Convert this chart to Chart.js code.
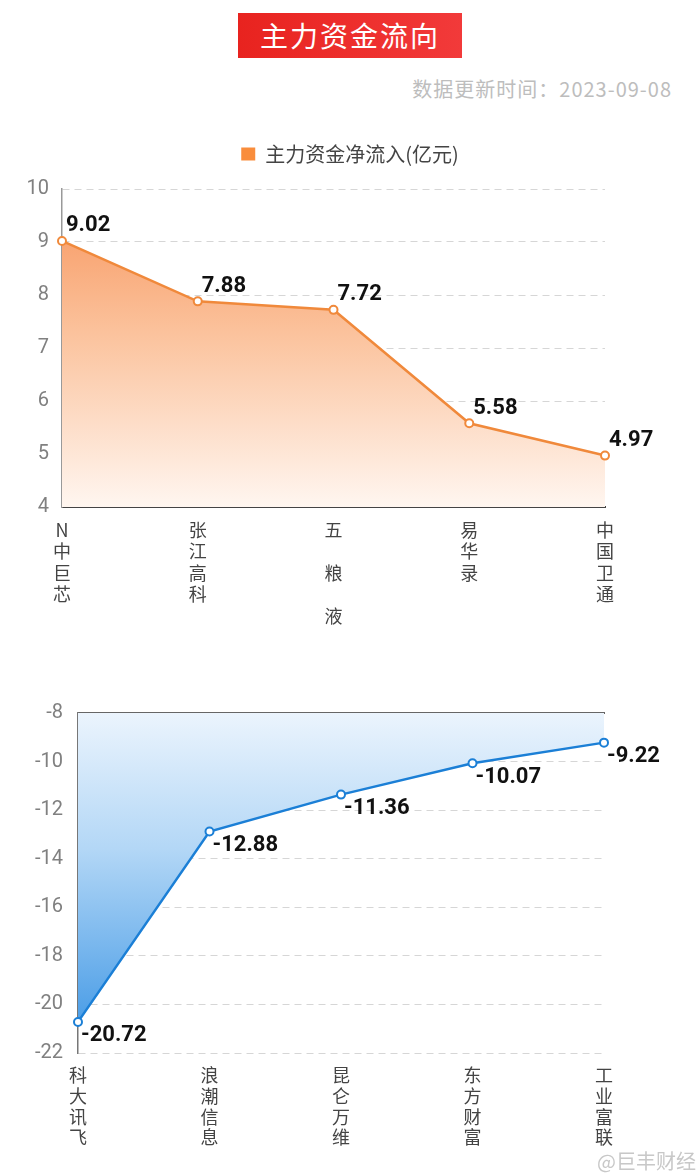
<!DOCTYPE html>
<html>
<head>
<meta charset="utf-8">
<script src="https://cdn.jsdelivr.net/npm/chart.js@4.4.0/dist/chart.umd.min.js"></script>
<style>
  body { margin: 0; background: #fff; font-family: Roboto, "Noto Sans CJK SC", sans-serif; }
  #page { position: relative; width: 700px; height: 1175px; overflow: hidden; background: #fff; }
  #title {
    position: absolute; left: 238px; top: 13px; width: 224px; height: 45px;
    background: linear-gradient(90deg, #e8231f, #f23a3a);
    color: #fff; font-size: 28px; line-height: 45px; text-align: center;
    font-family: "Noto Sans CJK SC", sans-serif; letter-spacing: 2px;
  }
  #updated {
    position: absolute; right: 28px; top: 74px; color: #bdbdbd; font-size: 20px;
    font-family: "Noto Sans CJK SC", sans-serif; letter-spacing: 1px;
  }
  #mark {
    position: absolute; right: 4px; top: 1146px; color: #c8c8c8; font-size: 20px;
    font-family: "Noto Sans CJK SC", sans-serif;
  }
  canvas { position: absolute; left: 0; }
  #topChart { top: 128px; }
  #bottomChart { top: 680px; }
</style>
</head>
<body>
<div id="page">
  <div id="title">主力资金流向</div>
  <div id="updated">数据更新时间：2023-09-08</div>
  <canvas id="topChart" width="700" height="512"></canvas>
  <canvas id="bottomChart" width="700" height="495"></canvas>
  <div id="mark">@巨丰财经</div>
</div>
<script>
// inflow stocks (亿元)
const inflowNames = ['N中巨芯', '张江高科', '五粮液', '易华录', '中国卫通'];
const inflowTicks = [['N', '中', '巨', '芯'], ['张', '江', '高', '科'], ['五', '', '粮', '', '液'], ['易', '华', '录'], ['中', '国', '卫', '通']];
const inflowValues = [9.02, 7.88, 7.72, 5.58, 4.97];

// outflow stocks (亿元)
const outflowNames = ['科大讯飞', '浪潮信息', '昆仑万维', '东方财富', '工业富联'];
const outflowTicks = [['科', '大', '讯', '飞'], ['浪', '潮', '信', '息'], ['昆', '仑', '万', '维'], ['东', '方', '财', '富'], ['工', '业', '富', '联']];
const outflowValues = [-20.72, -12.88, -11.36, -10.07, -9.22];

const legendLabel = '主力资金净流入(亿元)';

const orange = '#f0893b';
const blue = '#1b7fd6';
const numFont = 'Roboto, "Noto Sans CJK SC", sans-serif';
const cjkFont = '"Noto Sans CJK SC", sans-serif';

// draws the value next to every point
const valueLabels = {
  id: 'valueLabels',
  afterDatasetsDraw(chart, args, opts) {
    const ctx = chart.ctx;
    const meta = chart.getDatasetMeta(0);
    const vals = chart.data.datasets[0].data;
    ctx.save();
    ctx.font = 'bold 22px ' + numFont;
    ctx.fillStyle = '#111';
    ctx.textAlign = 'left';
    ctx.textBaseline = 'middle';
    meta.data.forEach((pt, i) => {
      ctx.fillText(vals[i].toFixed(2), pt.x + opts.dx, pt.y + opts.dy);
    });
    ctx.restore();
  }
};

// extra room under the legend
const legendGap = {
  id: 'legendGap',
  beforeInit(chart) {
    const fit = chart.legend.fit;
    chart.legend.fit = function () {
      fit.call(this);
      this.height += 15;
    };
  }
};

function grad(chart, stops) {
  const area = chart.chartArea;
  if (!area) return stops[0][1];
  const g = chart.ctx.createLinearGradient(0, area.top, 0, area.bottom);
  stops.forEach(s => g.addColorStop(s[0], s[1]));
  return g;
}

const gridDash = { color: '#d6d6d6', lineWidth: 1 };

// empty right axis, only keeps space so the legend stays centred on the page
const spacer = w => ({
  position: 'right',
  grid: { display: false, drawTicks: false },
  border: { display: false },
  ticks: { display: false },
  afterFit(scale) { scale.width = w; }
});

new Chart(document.getElementById('topChart'), {
  type: 'line',
  data: {
    labels: inflowTicks,
    datasets: [{
      label: legendLabel,
      data: inflowValues,
      borderColor: orange,
      borderWidth: 2.5,
      pointRadius: 4,
      pointBorderWidth: 2,
      pointBackgroundColor: '#fff',
      pointBorderColor: orange,
      tension: 0,
      fill: 'start',
      clip: false,
      backgroundColor: ctx => grad(ctx.chart, [[0, '#f7935a'], [0.45, '#fbc29c'], [1, '#fff6f0']])
    }]
  },
  options: {
    responsive: false,
    animation: false,
    devicePixelRatio: 1,
    layout: { padding: { left: 0, right: 0, top: 6, bottom: 0 } },
    plugins: {
      tooltip: { enabled: false },
      valueLabels: { dx: 4, dy: -15 },
      legend: {
        position: 'top',
        labels: {
          font: { size: 20, family: cjkFont },
          color: '#444',
          boxWidth: 14,
          boxHeight: 13,
          padding: 10,
          generateLabels(chart) {
            const items = Chart.defaults.plugins.legend.labels.generateLabels(chart);
            items.forEach(it => { it.fillStyle = '#f98d3c'; it.strokeStyle = '#f98d3c'; it.lineWidth = 0; });
            return items;
          }
        }
      }
    },
    scales: {
      x: {
        offset: false,
        grid: { display: false, drawTicks: false },
        border: { display: true, color: '#444', width: 2 },
        ticks: {
          autoSkip: false, maxRotation: 0, padding: 12, color: '#444',
          font: { size: 18, family: cjkFont, lineHeight: 1.2 }
        },
        afterFit(scale) { scale.height = 133; }
      },
      y: {
        min: 4, max: 10,
        ticks: { stepSize: 1, padding: 13, color: '#808080', font: { size: 20, family: numFont } },
        grid: { ...gridDash, drawTicks: false },
        border: { display: true, color: '#999', width: 1.5, dash: [7, 5] },
        afterFit(scale) { scale.width = 62; }
      },
      yRight: spacer(95)
    }
  },
  plugins: [valueLabels, legendGap]
});

new Chart(document.getElementById('bottomChart'), {
  type: 'line',
  data: {
    labels: outflowTicks,
    datasets: [{
      label: '主力资金净流出(亿元)',
      data: outflowValues,
      borderColor: blue,
      borderWidth: 2.5,
      pointRadius: 4,
      pointBorderWidth: 2,
      pointBackgroundColor: '#fff',
      pointBorderColor: blue,
      tension: 0,
      fill: 'end',
      clip: false,
      backgroundColor: ctx => grad(ctx.chart, [[0, '#ebf4fd'], [0.4, '#b3d7f6'], [1, '#3893e4']])
    }]
  },
  options: {
    responsive: false,
    animation: false,
    devicePixelRatio: 1,
    layout: { padding: { left: 0, right: 96, top: 33, bottom: 0 } },
    plugins: {
      tooltip: { enabled: false },
      legend: { display: false },
      valueLabels: { dx: 3, dy: 14 }
    },
    scales: {
      x: {
        offset: false,
        grid: { display: false, drawTicks: false },
        border: { display: false },
        ticks: {
          autoSkip: false, maxRotation: 0, padding: 12, color: '#444',
          font: { size: 18, family: cjkFont, lineHeight: 1.15 }
        },
        afterFit(scale) { scale.height = 122; }
      },
      xTop: {
        position: 'top',
        grid: { display: false, drawTicks: false },
        border: { display: true, color: '#666', width: 2 },
        ticks: { display: false },
        afterFit(scale) { scale.height = 0; }
      },
      y: {
        min: -22, max: -8,
        ticks: { stepSize: 2, padding: 15, color: '#808080', font: { size: 20, family: numFont } },
        grid: { ...gridDash, drawTicks: false },
        border: { display: true, color: '#777', width: 1.5, dash: [7, 5] },
        afterFit(scale) { scale.width = 78; }
      }
    }
  },
  plugins: [valueLabels]
});
</script>
</body>
</html>
